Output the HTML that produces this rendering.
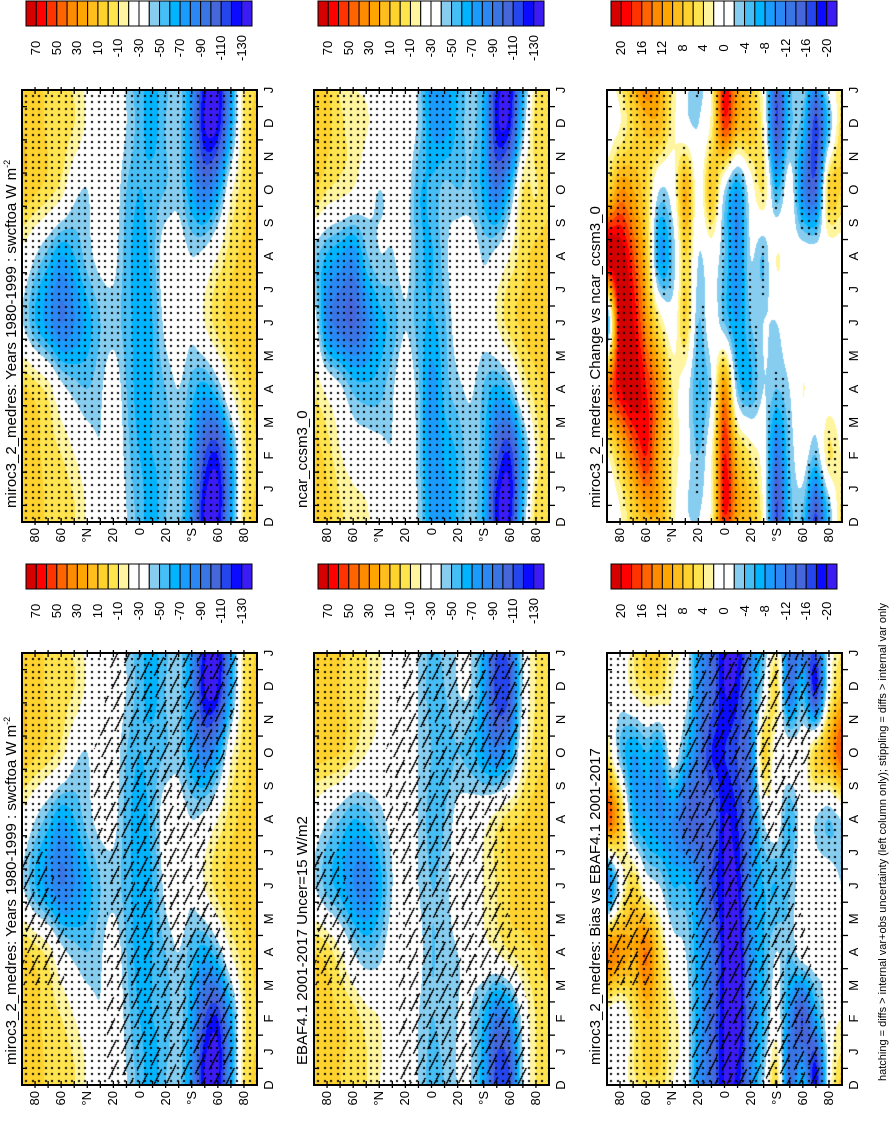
<!DOCTYPE html>
<html><head><meta charset="utf-8">
<style>
html,body{margin:0;padding:0;background:#fff;width:894px;height:1105px;overflow:hidden}
#root{position:absolute;left:0;top:0;width:1105px;height:894px;transform-origin:0 0;transform:translate(0,1105px) rotate(-90deg);background:#fff;font-family:"Liberation Sans",Arial,sans-serif;color:#000}
.t{position:absolute;white-space:nowrap;line-height:1}
canvas{position:absolute}
</style></head>
<body>
<div id="root">
<svg id="ov" width="1105" height="894" style="position:absolute;left:0;top:0"></svg>
<div class="t" style="left:40px;top:3px;font-size:15px">miroc3_2_medres: Years 1980-1999 : swcftoa W m<sup style="font-size:9px">-2</sup></div>
<div class="t" style="left:597px;top:3px;font-size:15px">miroc3_2_medres: Years 1980-1999 : swcftoa W m<sup style="font-size:9px">-2</sup></div>
<div class="t" style="left:40px;top:295px;font-size:15px">EBAF4.1 2001-2017 Uncer=15 W/m2</div>
<div class="t" style="left:597px;top:295px;font-size:15px">ncar_ccsm3_0</div>
<div class="t" style="left:40px;top:588px;font-size:15px">miroc3_2_medres: Bias vs EBAF4.1 2001-2017</div>
<div class="t" style="left:597px;top:588px;font-size:15px">miroc3_2_medres: Change vs ncar_ccsm3_0</div>
<div class="t" style="left:24px;top:878px;font-size:11px">hatching = diffs &gt; internal var+obs uncertainty (left column only); stippling = diffs &gt; internal var only</div>
</div>
<script>
// ---- data (lat 90N..90S every 10 deg; time points D,F,A,J,A,O) ----
const latitudes = [90,80,70,60,50,40,30,20,10,0,-10,-20,-30,-40,-50,-60,-70,-80,-90];
const timePoints = ['D','F','A','J','A','O'];
const monthLabels = ['D','J','F','M','A','M','J','J','A','S','O','N','D','J'];
const latTickLabels = ['80','60','°N','20','0','20','°S','60','80'];
const swcfLevelLabels = ['70','50','30','10','-10','-30','-50','-70','-90','-110','-130'];
const diffLevelLabels = ['20','16','12','8','4','0','-4','-8','-12','-16','-20'];

const miroc_D = [10,5,-2,-5,-10,-22,-25,-28,-40,-55,-65,-50,-45,-80,-130,-130,-70,-10,2];
const miroc_F = [8,3,-5,-10,-20,-30,-38,-25,-45,-60,-60,-55,-45,-70,-110,-120,-70,-15,0];
const miroc_A = [2,-5,-15,-35,-45,-50,-42,-30,-50,-65,-60,-50,-40,-55,-65,-50,-20,-5,3];
const miroc_J = [-40,-60,-75,-90,-80,-65,-50,-45,-55,-65,-60,-35,-25,-35,-20,-5,2,8,8];
const miroc_Au = [-25,-40,-55,-70,-60,-45,-35,-35,-55,-65,-55,-30,-30,-40,-35,-20,-5,3,6];
const miroc_O = [8,2,-5,-15,-35,-40,-25,-30,-50,-60,-55,-50,-45,-70,-90,-70,-25,-5,2];

const ebaf_D = [5,5,0,-5,-10,-20,-25,-28,-40,-55,-50,-40,-40,-70,-115,-110,-40,-10,0];
const ebaf_F = [5,3,0,-5,-15,-20,-28,-28,-40,-50,-45,-40,-40,-60,-90,-80,-35,-10,-5];
const ebaf_A = [0,-5,-20,-40,-50,-45,-30,-30,-35,-50,-45,-40,-35,-25,-20,-10,-5,0,5];
const ebaf_J = [-40,-55,-65,-80,-85,-65,-40,-30,-40,-50,-45,-30,-25,-20,-10,0,5,8,5];
const ebaf_Au = [-30,-40,-50,-60,-55,-45,-35,-35,-40,-55,-50,-35,-30,-25,-15,-5,0,5,5];
const ebaf_O = [5,3,0,-10,-20,-25,-30,-35,-40,-50,-55,-50,-55,-70,-85,-70,-25,-5,0];

const bias_D = [0,0,3,5,5,2,0,-10,-14,-20,-19,-11,-2,5,-13,-6,-19,0,7];
const bias_F = [0,-1,4,8,6,3,0,-8,-14,-20,-22,-12,-6,0,-10,-16,-8,0,2];
const bias_A = [14,12,10,14,6,0,-2,-8,-12,-20,-22,-10,-6,-2,-4,0,0,-2,0];
const bias_J = [-12,0,6,0,-2,-6,-6,-10,-16,-20,-20,-10,-6,-6,-4,0,0,0,-2];
const bias_Au = [16,8,-6,-8,-10,-10,-14,-16,-14,-20,-18,-12,-2,0,-6,0,-2,-4,-2];
const bias_O = [4,-4,-8,-6,-8,0,-6,-12,-18,-18,-16,-12,6,0,0,0,6,10,16];

const change_D = [0,2,6,9,9,3,-1,-2,3,17,10,8,2,-16,-5,-5,-17,-5,5];
const change_F = [2,8,14,18,10,4,0,-4,2,18,8,4,0,-12,-4,0,-4,4,2];
const change_A = [14,20,22,18,12,4,0,-6,-2,12,-4,-6,-2,-4,-2,2,0,0,0];
const change_J = [-6,22,20,12,4,0,6,-4,0,-4,-8,-4,-2,-2,0,0,0,0,0];
const change_Au = [22,22,16,8,-8,-4,6,-2,0,-4,-10,-2,-4,2,0,0,0,0,0];
const change_O = [6,12,10,6,-2,0,10,0,8,-2,-8,0,4,-6,0,-10,-14,6,6];

const hatch_D = [0,0,0,0,0,0,0,1,1,1,1,1,1,1,1,1,1,0,0];
const hatch_F = [0,0,0,0,0,0,0,1,1,1,1,1,1,1,1,1,1,0,0];
const hatch_A = [1,1,1,1,0,0,0,1,1,1,1,1,1,1,1,1,0,0,0];
const hatch_J = [1,1,1,0,0,0,0,1,1,1,1,1,1,1,1,0,0,0,0];
const hatch_Au = [0,0,0,0,0,0,1,1,1,1,1,1,1,1,1,0,0,0,0];
const hatch_O = [0,0,0,0,0,0,1,1,1,1,1,1,1,1,1,1,0,0,0];

const miroc = [miroc_D,miroc_F,miroc_A,miroc_J,miroc_Au,miroc_O];
const ebaf = [ebaf_D,ebaf_F,ebaf_A,ebaf_J,ebaf_Au,ebaf_O];
const bias = [bias_D,bias_F,bias_A,bias_J,bias_Au,bias_O];
const change = [change_D,change_F,change_A,change_J,change_Au,change_O];
const hatchMask = [hatch_D,hatch_F,hatch_A,hatch_J,hatch_Au,hatch_O];
// reference model = model - change
const ncar = miroc.map((row,i)=>row.map((v,k)=>v-change[i][k]));

const palette = ['#d50000','#ff0000','#ff3300','#ff6400','#ff8c00','#ffa500','#ffbe1c','#ffd22e','#ffe44e','#fff59e','#ffffff','#ffffff','#87cdf0','#45bdf5','#00b4ff','#1a9cff','#2b87f3','#3a75e6','#4666dc','#2545ee','#0b0bff','#3b1cf5'];
const palRGB = palette.map(h=>[parseInt(h.substr(1,2),16),parseInt(h.substr(3,2),16),parseInt(h.substr(5,2),16)]);

// ---- geometry ----
const PW=432, PH=235;
const rowV=[22,314,607];
const colU={A:20,B:583};
const cbU={A:516,B:1079};
const scales={
  swcf:{top:80,step:10,labels:swcfLevelLabels},
  diff:{top:22,step:2,labels:diffLevelLabels}
};
const panels=[
 {name:'model-bias-map',row:0,col:'A',data:miroc,scale:'swcf',hatch:true,stip:'all'},
 {name:'model-map',row:0,col:'B',data:miroc,scale:'swcf',hatch:false,stip:'all'},
 {name:'obs-map',row:1,col:'A',data:ebaf,scale:'swcf',hatch:true,stip:'all'},
 {name:'ref-model-map',row:1,col:'B',data:ncar,scale:'swcf',hatch:false,stip:'all'},
 {name:'bias-map',row:2,col:'A',data:bias,scale:'diff',hatch:true,stip:'all'},
 {name:'change-map',row:2,col:'B',data:change,scale:'diff',hatch:false,stip:'abs3'}
];

function cr(p0,p1,p2,p3,t){const t2=t*t,t3=t2*t;return 0.5*((2*p1)+(-p0+p2)*t+(2*p0-5*p1+4*p2-p3)*t2+(-p0+3*p1-3*p2+p3)*t3);}
function latSample(arr,kf){
  const n=arr.length;let k=Math.floor(kf);if(k>n-2)k=n-2;if(k<0)k=0;const f=kf-k;
  const g=i=>arr[Math.max(0,Math.min(n-1,i))];
  return cr(g(k-1),g(k),g(k+1),g(k+2),f);
}
function fieldAt(rows,tf,kf){
  const n=rows.length;let i=Math.floor(tf);const f=tf-i;
  const g=j=>latSample(rows[((j%n)+n)%n],kf);
  return cr(g(i-1),g(i),g(i+1),g(i+2),f);
}
function maskAt(rows,tf,kf){
  const n=rows.length;let i=Math.floor(tf);const f=tf-i;
  let k=Math.floor(kf);if(k>17)k=17;if(k<0)k=0;const fk=kf-k;
  const r0=rows[((i%n)+n)%n],r1=rows[(((i+1)%n)+n)%n];
  const a=r0[k]*(1-fk)+r0[k+1]*fk, b=r1[k]*(1-fk)+r1[k+1]*fk;
  return a*(1-f)+b*f;
}
function timeToX(monthIdx){return monthIdx*PW/13;}
function latToY(lat){return (90-lat)/180*PH;}

const root=document.getElementById('root');
const svg=document.getElementById('ov');
const NS='http://www.w3.org/2000/svg';
function sv(tag,attrs){const e=document.createElementNS(NS,tag);for(const k in attrs)e.setAttribute(k,attrs[k]);svg.appendChild(e);return e;}

panels.forEach(p=>{
  const u0=colU[p.col], v0=rowV[p.row], sc=scales[p.scale];
  const cv=document.createElement('canvas');
  cv.width=PW;cv.height=PH;cv.style.left=u0+'px';cv.style.top=v0+'px';
  
  
  root.insertBefore(cv,svg);
  const ctx=cv.getContext('2d');
  const img=ctx.createImageData(PW,PH);const d=img.data;
  for(let y=0;y<PH;y++){
    const kf=18*y/(PH-1);
    for(let x=0;x<PW;x++){
      const tf=(13*x/(PW-1))/2;
      const val=fieldAt(p.data,tf,kf);
      let b=Math.floor((sc.top-val)/sc.step);if(b<0)b=0;if(b>21)b=21;
      let c=palRGB[b];
      if(p.hatch){
        const n=x-2*y;const t=2*x+y+Math.floor(n/24)*23;
        if((((n%24)+24)%24)<2.2 && (((t%64)+64)%64)<46 && maskAt(hatchMask,tf,kf)>0.5) c=[0,0,0];
      }
      const o=(y*PW+x)*4;d[o]=c[0];d[o+1]=c[1];d[o+2]=c[2];d[o+3]=255;
    }
  }
  ctx.putImageData(img,0,0);
  ctx.fillStyle='#000';
  for(let x=3;x<PW-1;x+=6.6){for(let y=3;y<PH-1;y+=6.6){
    if(p.stip==='abs3'){const tf=(13*x/(PW-1))/2,kf=18*y/(PH-1);if(Math.abs(fieldAt(p.data,tf,kf))<3)continue;}
    ctx.fillRect(Math.round(x),Math.round(y),2,2);
  }}
  const fr=sv('rect',{x:u0,y:v0,width:PW,height:PH,fill:'none',stroke:'#000','stroke-width':2});
  
  
  for(let lat=80;lat>=-80;lat-=10){
    const y=v0+latToY(lat);
    sv('line',{x1:u0-3,y1:y,x2:u0+4,y2:y,stroke:'#000','stroke-width':1.3});
    sv('line',{x1:u0+PW-4,y1:y,x2:u0+PW+3,y2:y,stroke:'#000','stroke-width':1.3});
  }
  for(let m=0;m<13;m++){
    const x=u0+timeToX(m+0.5);
    sv('line',{x1:x,y1:v0+PH,x2:x,y2:v0+PH+6,stroke:'#000','stroke-width':1.3});
    sv('line',{x1:x,y1:v0,x2:x,y2:v0+5,stroke:'#000','stroke-width':1.3});
  }
  monthLabels.forEach((m,i)=>{
    const el=document.createElement('div');
    el.className='t';el.textContent=m;el.style.fontSize='13px';
    el.style.left=(u0+timeToX(i)-10)+'px';el.style.width='20px';el.style.textAlign='center';
    el.style.top=(v0+PH+5)+'px';
    
    
    root.appendChild(el);
  });
  latTickLabels.forEach((l,i)=>{
    const lat=80-20*i;
    const el=document.createElement('div');
    el.className='t';el.textContent=l;el.style.fontSize='13px';
    el.style.left=(u0-40)+'px';el.style.width='34px';el.style.textAlign='right';
    el.style.top=(v0+latToY(lat)-7)+'px';
    
    
    root.appendChild(el);
  });
  const cu=cbU[p.col], cv0=v0+4, bw=226/22;
  for(let b=0;b<22;b++){
    const r=sv('rect',{x:cu,y:cv0+b*bw,width:25,height:bw,fill:palette[b],stroke:'#000','stroke-width':1});
    
    
  }
  sc.labels.forEach((l,i)=>{
    const el=document.createElement('div');
    el.className='t';el.textContent=l;el.style.fontSize='13px';
    el.style.left=(cu-42)+'px';el.style.width='40px';el.style.textAlign='center';
    el.style.top=(cv0+(2*i+1)*bw-7)+'px';
    
    
    root.appendChild(el);
  });
});
</script>
</body></html>
